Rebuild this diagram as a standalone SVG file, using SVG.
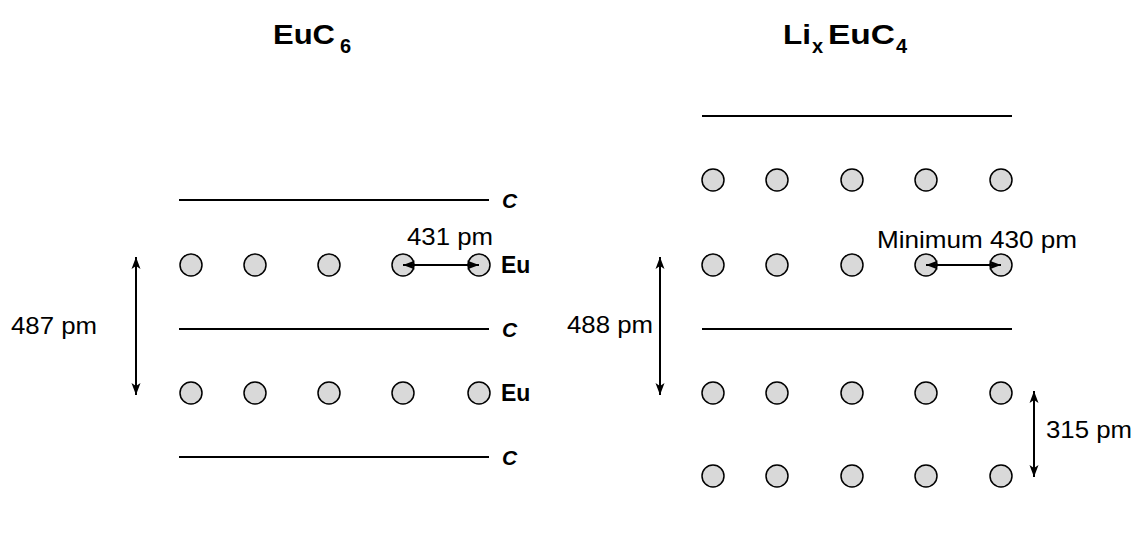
<svg xmlns="http://www.w3.org/2000/svg" width="1139" height="538" viewBox="0 0 1139 538">
<defs>
<marker id="ah" markerUnits="userSpaceOnUse" viewBox="0 0 12 10" refX="12" refY="5" markerWidth="12" markerHeight="10" orient="auto-start-reverse">
<path d="M0,0.5 L12,5 L0,9.5 L3,5 z" fill="#000"/>
</marker>
</defs>
<style>
.layer{stroke:#000;stroke-width:2;fill:none}
.atom{fill:#d9d9d9;stroke:#000;stroke-width:1.5}
.dim{stroke:#000;stroke-width:2;fill:none;marker-start:url(#ah);marker-end:url(#ah)}
.lbl{font-family:"Liberation Sans",Arial,sans-serif;font-size:24px;fill:#000}
.title{font-family:"Liberation Sans",Arial,sans-serif;font-weight:bold;fill:#000}
.eu{font-family:"Liberation Sans",Arial,sans-serif;font-weight:bold;font-size:23px;fill:#000}
.c{font-family:"Liberation Sans",Arial,sans-serif;font-weight:bold;font-style:italic;font-size:21px;fill:#000}
</style>
<rect width="1139" height="538" fill="#fff"/>

<g id="title-left">
<text class="title" x="273" y="44" font-size="28" textLength="62" lengthAdjust="spacingAndGlyphs">EuC</text>
<text class="title" x="340" y="53" font-size="20">6</text>
</g>
<g id="title-right">
<text class="title" x="783" y="44" font-size="28" textLength="28" lengthAdjust="spacingAndGlyphs">Li</text>
<text class="title" x="812" y="53" font-size="20">x</text>
<text class="title" x="828" y="44" font-size="28" textLength="67" lengthAdjust="spacingAndGlyphs">EuC</text>
<text class="title" x="896" y="53" font-size="20">4</text>
</g>

<g id="left-structure">
<g id="left-C1"><line class="layer" x1="179" y1="200" x2="489" y2="200"/><text class="c" x="502" y="208">C</text></g>
<g id="left-Eu1">
<circle class="atom" cx="191" cy="265" r="11"/><circle class="atom" cx="255" cy="265" r="11"/><circle class="atom" cx="329" cy="265" r="11"/><circle class="atom" cx="403" cy="265" r="11"/><circle class="atom" cx="479" cy="265" r="11"/>
<text class="eu" x="501" y="273">Eu</text></g>
<g id="left-C2"><line class="layer" x1="179" y1="329" x2="489" y2="329"/><text class="c" x="502" y="337">C</text></g>
<g id="left-Eu2">
<circle class="atom" cx="191" cy="393" r="11"/><circle class="atom" cx="255" cy="393" r="11"/><circle class="atom" cx="329" cy="393" r="11"/><circle class="atom" cx="403" cy="393" r="11"/><circle class="atom" cx="479" cy="393" r="11"/>
<text class="eu" x="501" y="401">Eu</text></g>
<g id="left-C3"><line class="layer" x1="179" y1="457" x2="489" y2="457"/><text class="c" x="502" y="465">C</text></g>
</g>

<g id="right-structure">
<g id="right-L1"><line class="layer" x1="702" y1="116" x2="1012" y2="116"/></g>
<g id="right-rowA">
<circle class="atom" cx="713" cy="180" r="11"/><circle class="atom" cx="777" cy="180" r="11"/><circle class="atom" cx="852" cy="180" r="11"/><circle class="atom" cx="926" cy="180" r="11"/><circle class="atom" cx="1001" cy="180" r="11"/></g>
<g id="right-rowB">
<circle class="atom" cx="713" cy="265" r="11"/><circle class="atom" cx="777" cy="265" r="11"/><circle class="atom" cx="852" cy="265" r="11"/><circle class="atom" cx="926" cy="265" r="11"/><circle class="atom" cx="1001" cy="265" r="11"/></g>
<g id="right-L2"><line class="layer" x1="702" y1="329" x2="1012" y2="329"/></g>
<g id="right-rowC">
<circle class="atom" cx="713" cy="393" r="11"/><circle class="atom" cx="777" cy="393" r="11"/><circle class="atom" cx="852" cy="393" r="11"/><circle class="atom" cx="926" cy="393" r="11"/><circle class="atom" cx="1001" cy="393" r="11"/></g>
<g id="right-rowD">
<circle class="atom" cx="713" cy="476" r="11"/><circle class="atom" cx="777" cy="476" r="11"/><circle class="atom" cx="852" cy="476" r="11"/><circle class="atom" cx="926" cy="476" r="11"/><circle class="atom" cx="1001" cy="476" r="11"/></g>
</g>

<g id="connectors">
<line class="dim" x1="403" y1="265" x2="479" y2="265"/>
<line class="dim" x1="136" y1="257" x2="136" y2="395"/>
<line class="dim" x1="926" y1="265" x2="1001" y2="265"/>
<line class="dim" x1="660" y1="257" x2="660" y2="395"/>
<line class="dim" x1="1034" y1="391" x2="1034" y2="477"/>
</g>

<g id="labels">
<text class="lbl" x="407" y="245" textLength="86" lengthAdjust="spacingAndGlyphs">431 pm</text>
<text class="lbl" x="11" y="334" textLength="86" lengthAdjust="spacingAndGlyphs">487 pm</text>
<text class="lbl" x="877" y="248" textLength="200" lengthAdjust="spacingAndGlyphs">Minimum 430 pm</text>
<text class="lbl" x="567" y="333" textLength="86" lengthAdjust="spacingAndGlyphs">488 pm</text>
<text class="lbl" x="1046" y="438" textLength="86" lengthAdjust="spacingAndGlyphs">315 pm</text>
</g>
</svg>
